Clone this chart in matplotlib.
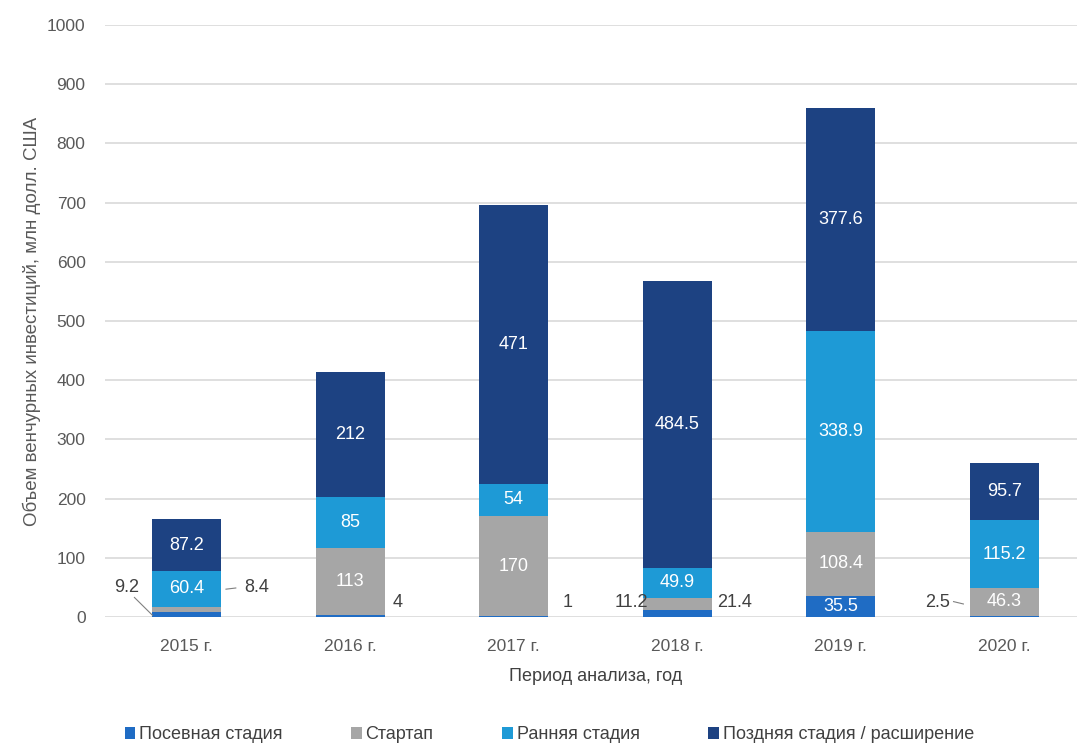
import numpy as np
import matplotlib.pyplot as plt

plt.rcParams['font.family'] = ['Liberation Sans', 'DejaVu Sans']

# данные
years = ['2015 г.', '2016 г.', '2017 г.', '2018 г.', '2019 г.', '2020 г.']
seed = [9.2, 4, 1, 11.2, 35.5, 2.5]
startup = [8.4, 113, 170, 21.4, 108.4, 46.3]
early = [60.4, 85, 54, 49.9, 338.9, 115.2]
late = [87.2, 212, 471, 484.5, 377.6, 95.7]
names = ['Посевная стадия', 'Стартап', 'Ранняя стадия', 'Поздняя стадия / расширение']
colors = ['#1f6cc4', '#a6a6a6', '#1e9ad6', '#1d4282']

fig = plt.figure(figsize=(10.77, 7.47), dpi=100)
ax = fig.add_axes([105/1077, 130/747, 981/1077, 592/747])

x = np.arange(len(years))
w = 0.42
series = [seed, startup, early, late]
bottom = np.zeros(len(years))
bars = []
for s, c, n in zip(series, colors, names):
    b = ax.bar(x, s, w, bottom=bottom, color=c, label=n, zorder=3)
    bars.append(b)
    bottom += np.array(s)

# подписи внутри столбцов
cum = np.cumsum([np.zeros(len(years))] + [np.array(s) for s in series], axis=0)
for k, s in enumerate(series):
    for i in range(len(years)):
        if k == 0 and i != 4:
            continue
        if k == 1 and i in (0, 3):
            continue
        yc = cum[k][i] + s[i] / 2
        ax.text(x[i], yc, f'{s[i]:g}', ha='center', va='center', color='white',
                fontsize=13, zorder=4)

# подписи снаружи
tc = '#404040'
ax.text(x[0] - 0.37, 49, f'{seed[0]:g}', ha='center', va='center', color=tc, fontsize=13)
ax.plot([x[0] - 0.32, x[0] - 0.21], [33, 3], color='#808080', lw=0.8, zorder=4)
ax.text(x[0] + 0.43, 49, f'{startup[0]:g}', ha='center', va='center', color=tc, fontsize=13)
ax.plot([x[0] + 0.24, x[0] + 0.30], [47, 49], color='#808080', lw=0.8, zorder=4)
ax.text(x[1] + 0.29, 25, f'{seed[1]:g}', ha='center', va='center', color=tc, fontsize=13)
ax.text(x[2] + 0.33, 25, f'{seed[2]:g}', ha='center', va='center', color=tc, fontsize=13)
ax.text(x[3] - 0.28, 25, f'{seed[3]:g}', ha='center', va='center', color=tc, fontsize=13)
ax.text(x[3] + 0.35, 25, f'{startup[3]:g}', ha='center', va='center', color=tc, fontsize=13)
ax.text(x[5] - 0.41, 24, f'{seed[5]:g}', ha='center', va='center', color=tc, fontsize=13)
ax.plot([x[5] - 0.31, x[5] - 0.25], [26, 22], color='#808080', lw=0.8, zorder=4)

ax.set_xlim(-0.5, 5.5)
ax.set_ylim(0, 1000)
ax.set_yticks(np.arange(0, 1001, 100))
ax.set_xticks(x)
ax.set_xticklabels(years)
ax.grid(axis='y', color='#d9d9d9', lw=1.2, zorder=0)
for sp in ax.spines.values():
    sp.set_visible(False)
ax.tick_params(length=0, colors='#595959', labelsize=12.5)
ax.tick_params(axis='x', pad=16)
ax.tick_params(axis='y', pad=14)
ax.set_xlabel('Период анализа, год', fontsize=13, color='#404040', labelpad=10)
ax.set_ylabel('Объем венчурных инвестиций, млн долл. США', fontsize=13.5, color='#595959', labelpad=4)

fig.legend(handles=bars, labels=names, loc='lower center', bbox_to_anchor=(0.51, -0.017),
           ncol=4, frameon=False, fontsize=13, handlelength=0.6, handleheight=0.6,
           handletextpad=0.2, columnspacing=3.8, labelcolor='#404040')

plt.savefig('out.png', dpi=100)
